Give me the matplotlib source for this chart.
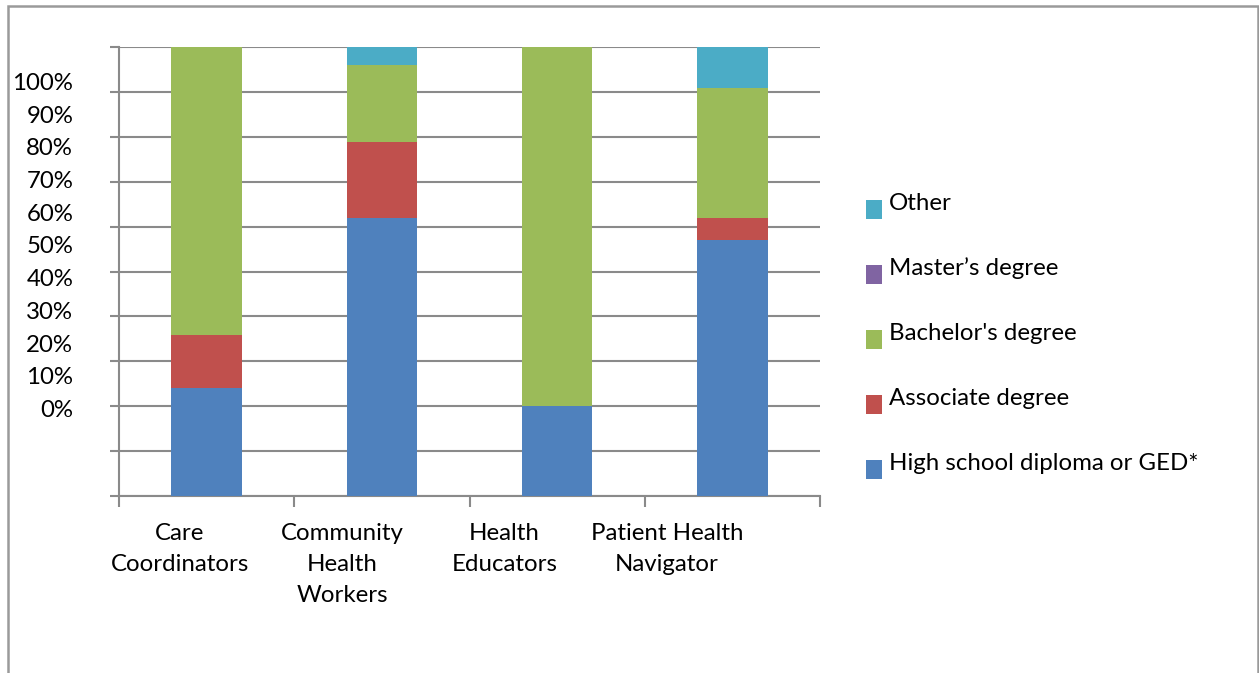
import matplotlib
matplotlib.use("Agg")
import matplotlib.pyplot as plt
from matplotlib.patches import Patch, Rectangle
from matplotlib.legend_handler import HandlerPatch

plt.rcParams['font.family'] = ['Lato', 'DejaVu Sans']

roles = ["Care\nCoordinators", "Community\nHealth\nWorkers", "Health\nEducators",
         "Patient Health\nNavigator"]
high_school = [24.1, 62.0, 20.0, 57.1]
associate = [11.7, 16.9, 0.0, 4.8]
bachelor = [64.2, 17.1, 80.0, 29.0]
master = [0.0, 0.0, 0.0, 0.0]
other = [0.0, 4.0, 0.0, 9.1]

series = [
    ("High school diploma or GED*", high_school, "#4F81BD"),
    ("Associate degree", associate, "#C0504D"),
    ("Bachelor's degree", bachelor, "#9BBB59"),
    ("Master\u2019s degree", master, "#8064A2"),
    ("Other", other, "#4BACC6"),
]
pct_labels = [f"{v}%" for v in range(0, 101, 10)]

W, H, DPI = 1259, 673, 100
fig = plt.figure(figsize=(W / DPI, H / DPI), dpi=DPI)
grid_c = "#8a8a8a"
fs = 17.3

# outer frame
fig.patches.append(Rectangle((8 / W, -0.05), (1258 - 8) / W, 1.05 - 6 / H,
                             transform=fig.transFigure, fill=False,
                             edgecolor="#9a9a9a", lw=1.8))

ax = fig.add_axes([119 / W, 1 - 496 / H, (820 - 119) / W, (496 - 47) / H])
x = list(range(len(roles)))
bottom = [0.0] * len(roles)
for name, vals, col in series:
    ax.bar(x, vals, width=0.403, bottom=bottom, color=col, zorder=3, label=name)
    bottom = [b + v for b, v in zip(bottom, vals)]

ax.set_xlim(-0.5, 3.5)
ax.set_ylim(0, 100)
ax.set_yticks(range(0, 101, 10))
ax.set_yticklabels([])
ax.set_xticks([i - 0.5 for i in range(len(roles) + 1)])
ax.set_xticklabels([])
ax.tick_params(axis="y", length=6.5, width=1.5, color=grid_c)
ax.tick_params(axis="x", length=8, width=1.5, color=grid_c)
ax.yaxis.grid(True, color=grid_c, lw=1.5, zorder=0)
ax.set_axisbelow(True)
for s in ("top", "right"):
    ax.spines[s].set_visible(False)
for s in ("left", "bottom"):
    ax.spines[s].set_color(grid_c)
    ax.spines[s].set_linewidth(1.5)

# percentage labels on their own scale
ay = ax.twinx()
ay.set_ylim(-26.76, 110.55)
ay.yaxis.tick_left()
ay.set_yticks(range(0, 101, 10))
ay.set_yticklabels(pct_labels, fontsize=fs)
ay.tick_params(axis="y", length=0, pad=33)
for s in ay.spines.values():
    s.set_visible(False)

# category labels on their own scale
axx = ax.twiny()
axx.set_xlim(-0.3758, 3.9425)
axx.xaxis.set_ticks_position("bottom")
axx.set_xticks(x)
axx.set_xticklabels(roles, fontsize=fs, va="top")
for t in axx.get_xticklabels():
    t.set_linespacing(1.6)
axx.tick_params(axis="x", length=0, pad=19.5)
for s in axx.spines.values():
    s.set_visible(False)


def low_square(legend, orig_handle, xdescent, ydescent, width, height, fontsize):
    return Rectangle((-xdescent, -ydescent - 6), width, height)


handles = [Patch(facecolor=c, edgecolor="none") for _, _, c in series][::-1]
labels = [n for n, _, _ in series][::-1]
fig.legend(handles, labels, loc="upper left", bbox_to_anchor=(866 / W, 1 - 192 / H),
           frameon=False, fontsize=fs, handlelength=0.67, handleheight=0.83,
           handletextpad=0.3, labelspacing=1.8, borderpad=0, borderaxespad=0,
           handler_map={Patch: HandlerPatch(patch_func=low_square)})

fig.savefig("out.png", dpi=DPI)
